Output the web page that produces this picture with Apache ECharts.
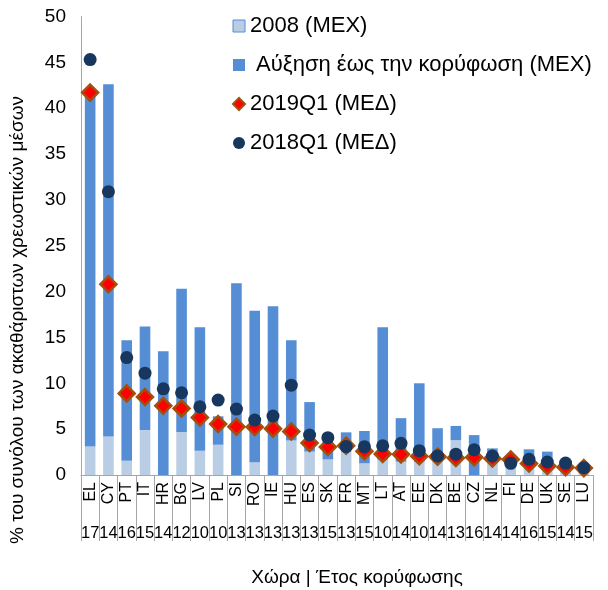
<!DOCTYPE html>
<html>
<head>
<meta charset="utf-8">
<script src="https://cdn.jsdelivr.net/npm/echarts@6/dist/echarts.min.js"></script>
<style>
html,body{margin:0;padding:0;background:#fff;}
#chart{width:608px;height:590px;}
</style>
</head>
<body>
<div id="chart"></div>
<script>
var countries = ['EL','CY','PT','IT','HR','BG','LV','PL','SI','RO','IE','HU','ES','SK','FR','MT','LT','AT','EE','DK','BE','CZ','NL','FI','DE','UK','SE','LU'];
var peakYears = ['17','14','16','15','14','12','10','10','13','13','13','13','13','15','13','15','10','14','10','14','13','16','14','14','16','15','14','15'];
var level2008 = [3.1,4.2,1.55,4.9,0,4.7,2.65,3.3,0,1.4,0,3.75,2.55,1.7,2.9,1.27,1.7,1.45,1.45,1.8,3.8,0,2.3,1.2,1.5,1.3,0.8,0.6];
var increaseToPeak = [38.7,38.4,13.15,11.3,13.5,15.6,13.45,3.1,20.9,16.5,18.4,10.95,5.4,2.3,1.75,3.53,14.4,4.75,8.55,3.3,1.55,4.35,0.6,0,1.3,1.25,0.4,0.1];
var q2019 = [41.7,20.8,8.9,8.5,7.55,7.26,6.28,5.56,5.27,5.23,5.05,4.75,3.5,3.05,3.2,2.6,2.3,2.25,2.05,2.0,1.85,1.93,1.8,1.7,1.25,0.98,0.84,0.75];
var q2018 = [45.3,30.9,12.8,11.1,9.4,8.97,7.44,8.17,7.19,5.99,6.43,9.8,4.36,4.07,3.1,3.09,3.18,3.45,2.65,2.07,2.27,2.75,2.07,1.27,1.72,1.42,1.3,0.8];
var yTicks = {min:0, max:50, interval:5};

var FONT = "'Liberation Sans', Arial, sans-serif";
var chart = echarts.init(document.getElementById('chart'), null, {renderer:'canvas'});
chart.setOption({
  animation:false,
  backgroundColor:'#fff',
  textStyle:{fontFamily:FONT},
  grid:{left:81, right:15, top:16.5, bottom:115},
  legend:{
    orient:'vertical', left:227, top:10, itemGap:17, itemWidth:12, itemHeight:12,
    textStyle:{fontFamily:FONT, fontSize:22, color:'#000'},
    data:[
      {name:'2008 (MEX)', icon:'rect', itemStyle:{borderColor:'#558ed5', borderWidth:1}},
      {name:' Αύξηση έως την κορύφωση (MEX)', icon:'rect'},
      {name:'2019Q1 (ΜΕΔ)', icon:'diamond'},
      {name:'2018Q1 (ΜΕΔ)', icon:'circle'}
    ]
  },
  graphic:[
    {type:'text', x:18, y:320, rotation:Math.PI/2,
     style:{text:'% του συνόλου των ακαθάριστων χρεωστικών μέσων', font:'19px '+FONT, fill:'#000', textAlign:'center', textVerticalAlign:'middle'}},
    {type:'text', x:357, y:578,
     style:{text:'Χώρα | Έτος κορύφωσης', font:'19px '+FONT, fill:'#000', textAlign:'center', textVerticalAlign:'middle'}}
  ],
  xAxis:[
    {type:'category', data:countries, gridIndex:0,
     axisLine:{show:true, lineStyle:{color:'#a6a6a6', width:1}},
     axisTick:{show:true, interval:0, length:66, alignWithLabel:false, lineStyle:{color:'#a6a6a6'}},
     axisLabel:{interval:0, rotate:90, fontSize:16, color:'#000', margin:7, fontFamily:FONT}},
    {type:'category', data:peakYears, gridIndex:0, position:'bottom', offset:48,
     axisLine:{show:false}, axisTick:{show:false},
     axisLabel:{interval:0, fontSize:16.5, color:'#000', margin:2, fontFamily:FONT}}
  ],
  yAxis:{type:'value', min:yTicks.min, max:yTicks.max, interval:yTicks.interval,
    axisLine:{show:true, lineStyle:{color:'#a6a6a6'}}, axisTick:{show:false},
    splitLine:{show:false},
    axisLabel:{fontSize:19, color:'#000', margin:15, fontFamily:FONT}},
  series:[
    {name:'2008 (MEX)', type:'bar', stack:'s', data:level2008, barWidth:'58%',
     itemStyle:{color:'#b9cde5'}},
    {name:' Αύξηση έως την κορύφωση (MEX)', type:'bar', stack:'s', data:increaseToPeak, barWidth:'58%',
     itemStyle:{color:'#558ed5'}},
    {name:'2019Q1 (ΜΕΔ)', type:'scatter', data:q2019, symbol:'diamond', symbolSize:[16,16],
     itemStyle:{color:'#ff0000', borderColor:'#a3500f', borderWidth:2.5, opacity:1}, z:3},
    {name:'2018Q1 (ΜΕΔ)', type:'scatter', data:q2018, symbol:'circle', symbolSize:13,
     itemStyle:{color:'#17375e', opacity:1}, z:4}
  ]
});
</script>
</body>
</html>
